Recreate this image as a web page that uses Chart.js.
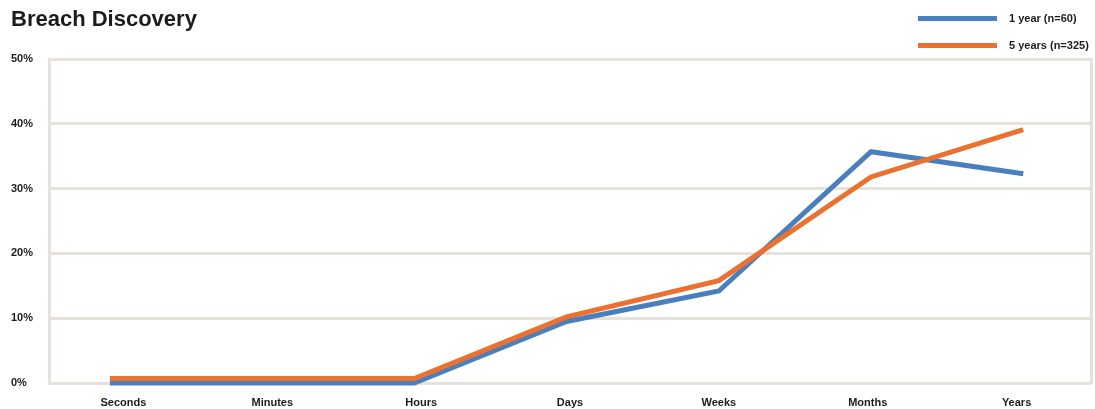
<!DOCTYPE html>
<html>
<head>
<meta charset="utf-8">
<script src="https://cdn.jsdelivr.net/npm/chart.js@4/dist/chart.umd.min.js"></script>
<style>
  html, body { margin: 0; padding: 0; background: #fff; }
  #wrap { position: relative; width: 1095px; height: 409px; overflow: hidden; }
  #chart { position: absolute; left: 0; top: 0; }
  #title { position: absolute; left: 11px; top: 8px; font: bold 22px "Liberation Sans", Arial, sans-serif; line-height: 22px; color: #1c1c1c; white-space: nowrap; }
  .leg { position: absolute; left: 918px; height: 14px; font: bold 11px "Liberation Sans", Arial, sans-serif; color: #1c1c1c; white-space: nowrap; }
  .leg .sw { position: absolute; left: 0; top: 5px; width: 79px; height: 5px; }
  .leg .tx { position: absolute; left: 91px; top: 0; line-height: 14px; }
</style>
</head>
<body>
<div id="wrap">
  <canvas id="chart" width="1095" height="409"></canvas>
  <div id="title">Breach Discovery</div>
  <div id="legend"></div>
</div>
<script>
const categories = ["Seconds", "Minutes", "Hours", "Days", "Weeks", "Months", "Years"];
const seriesNames = ["1 year (n=60)", "5 years (n=325)"];
const oneYear = [0, 0, 0, 9.5, 14.2, 35.7, 32.3];
const fiveYears = [0.7, 0.7, 0.7, 10.2, 15.8, 31.8, 39.1];
const yTicks = [0, 10, 20, 30, 40, 50];
const colors = ["#4a7fbd", "#ec7030"];

const gridColor = "#e5e2dd";
const font = { family: "'Liberation Sans', Arial, sans-serif", size: 11, weight: "bold" };

const toPoints = arr => arr.map((v, i) => ({ x: i, y: v }));

const chart = new Chart(document.getElementById("chart"), {
  type: "line",
  data: {
    labels: categories,
    datasets: [
      { label: seriesNames[0], data: toPoints(oneYear), borderColor: colors[0], backgroundColor: colors[0], order: 2 },
      { label: seriesNames[1], data: toPoints(fiveYears), borderColor: colors[1], backgroundColor: colors[1], order: 1 }
    ]
  },
  options: {
    responsive: false,
    animation: false,
    layout: { padding: { left: 11, right: 4, top: 59, bottom: 0 } },
    elements: {
      line: { borderWidth: 5, tension: 0, borderCapStyle: "butt", borderJoinStyle: "miter", fill: false },
      point: { radius: 0, hoverRadius: 0 }
    },
    datasets: { line: { clip: false } },
    plugins: { legend: { display: false }, tooltip: { enabled: false }, title: { display: false } },
    scales: {
      x: {
        type: "linear",
        position: "bottom",
        min: -0.40,
        max: 6.445,
        afterFit: s => { s.height = 0; },
        grid: { display: false, drawTicks: false },
        border: { display: false },
        ticks: { display: false }
      },
      xLabels: {
        type: "category",
        position: "bottom",
        labels: categories,
        offset: true,
        afterFit: s => { s.height = 26; },
        grid: { display: false, drawTicks: false },
        border: { display: false },
        ticks: {
          padding: 13,
          color: "#1c1c1c",
          font: font,
          maxRotation: 0,
          autoSkip: false
        }
      },
      y: {
        min: 0,
        max: 50,
        afterBuildTicks: s => { s.ticks = yTicks.map(v => ({ value: v })); },
        afterFit: s => { s.width = 38; },
        grid: { color: gridColor, lineWidth: 3, drawTicks: false },
        border: { display: true, color: gridColor, width: 3 },
        ticks: {
          crossAlign: "far",
          padding: 0,
          color: "#1c1c1c",
          font: font,
          callback: v => v + "%"
        }
      },
      y2: {
        position: "right",
        min: 0,
        max: 50,
        afterFit: s => { s.width = 0; },
        grid: { display: false, drawOnChartArea: false, drawTicks: false },
        border: { display: true, color: gridColor, width: 3 },
        ticks: { display: false }
      }
    }
  }
});

// HTML legend built from the chart's datasets
const legendEl = document.getElementById("legend");
chart.data.datasets.forEach((ds, i) => {
  const item = document.createElement("div");
  item.className = "leg";
  item.style.top = (11 + i * 27) + "px";
  const sw = document.createElement("div");
  sw.className = "sw";
  sw.style.background = ds.borderColor;
  const tx = document.createElement("div");
  tx.className = "tx";
  tx.textContent = ds.label;
  item.appendChild(sw);
  item.appendChild(tx);
  legendEl.appendChild(item);
});
</script>
</body>
</html>
